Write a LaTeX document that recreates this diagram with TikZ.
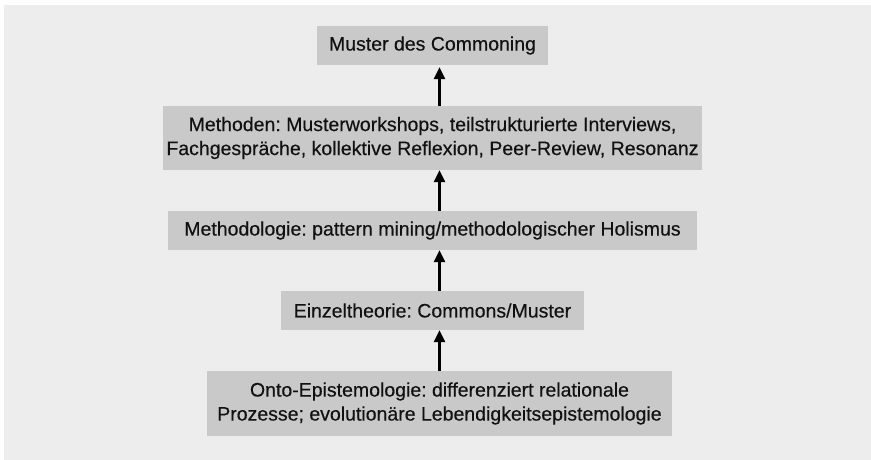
\documentclass[tikz,border=0pt]{standalone}
\usepackage{fontspec}
\setmainfont{Liberation Sans}[FakeBold = 0.4]
\usepackage{tikz}
\usetikzlibrary{arrows.meta, positioning}
\usepackage{xcolor}
\definecolor{sfondo}{HTML}{EDEDED}
\definecolor{scatola}{HTML}{C9C9C9}
\definecolor{testo}{HTML}{111111}
\frenchspacing

\begin{document}
\begin{tikzpicture}[x = 1pt, y = -1pt,
    livello/.style = {fill = scatola, text = testo, inner sep = 0pt, align = center,
        font = \fontsize{19.5}{24}\selectfont},
    freccia/.style = {line width = 2.4pt, -{Triangle[width = 11pt, length = 12pt]}}]
    % Parametri
    \pgfmathsetmacro{\hbassa}{39}
    \pgfmathsetmacro{\halta}{64}
    % Sfondo
    \useasboundingbox (0,0) rectangle (871,460);
    \fill[sfondo] (4,5) rectangle (871,460);
    % Livelli
    \node[livello, minimum width = 231pt, minimum height = \hbassa pt] (muster) at (432.5,45.5) {Muster des Commoning};
    \node[livello, minimum width = 539pt, minimum height = \halta pt] (methoden) at (432.5,138) {Methoden: Musterworkshops, teilstrukturierte Interviews,\\Fachgespräche, kollektive Reflexion, Peer-Review, Resonanz};
    \node[livello, minimum width = 529pt, minimum height = \hbassa pt] (methodologie) at (432.5,230.5) {Methodologie: pattern mining/methodologischer Holismus};
    \node[livello, minimum width = 303pt, minimum height = \hbassa pt] (theorie) at (432.5,310.5) {Einzeltheorie: Commons/Muster};
    \node[livello, minimum width = 465pt, minimum height = 65pt] (onto) at (439.5,403.5) {Onto-Epistemologie: differenziert relationale\\Prozesse; evolutionäre Lebendigkeitsepistemologie};
    % Frecce
    \draw[freccia] (onto.north) -- (onto.north |- theorie.south);
    \draw[freccia] (theorie.north -| onto) -- (methodologie.south -| onto);
    \draw[freccia] (methodologie.north -| onto) -- (methoden.south -| onto);
    \draw[freccia] (methoden.north -| onto) -- ([yshift = -2pt]muster.south -| onto);
\end{tikzpicture}
\end{document}
